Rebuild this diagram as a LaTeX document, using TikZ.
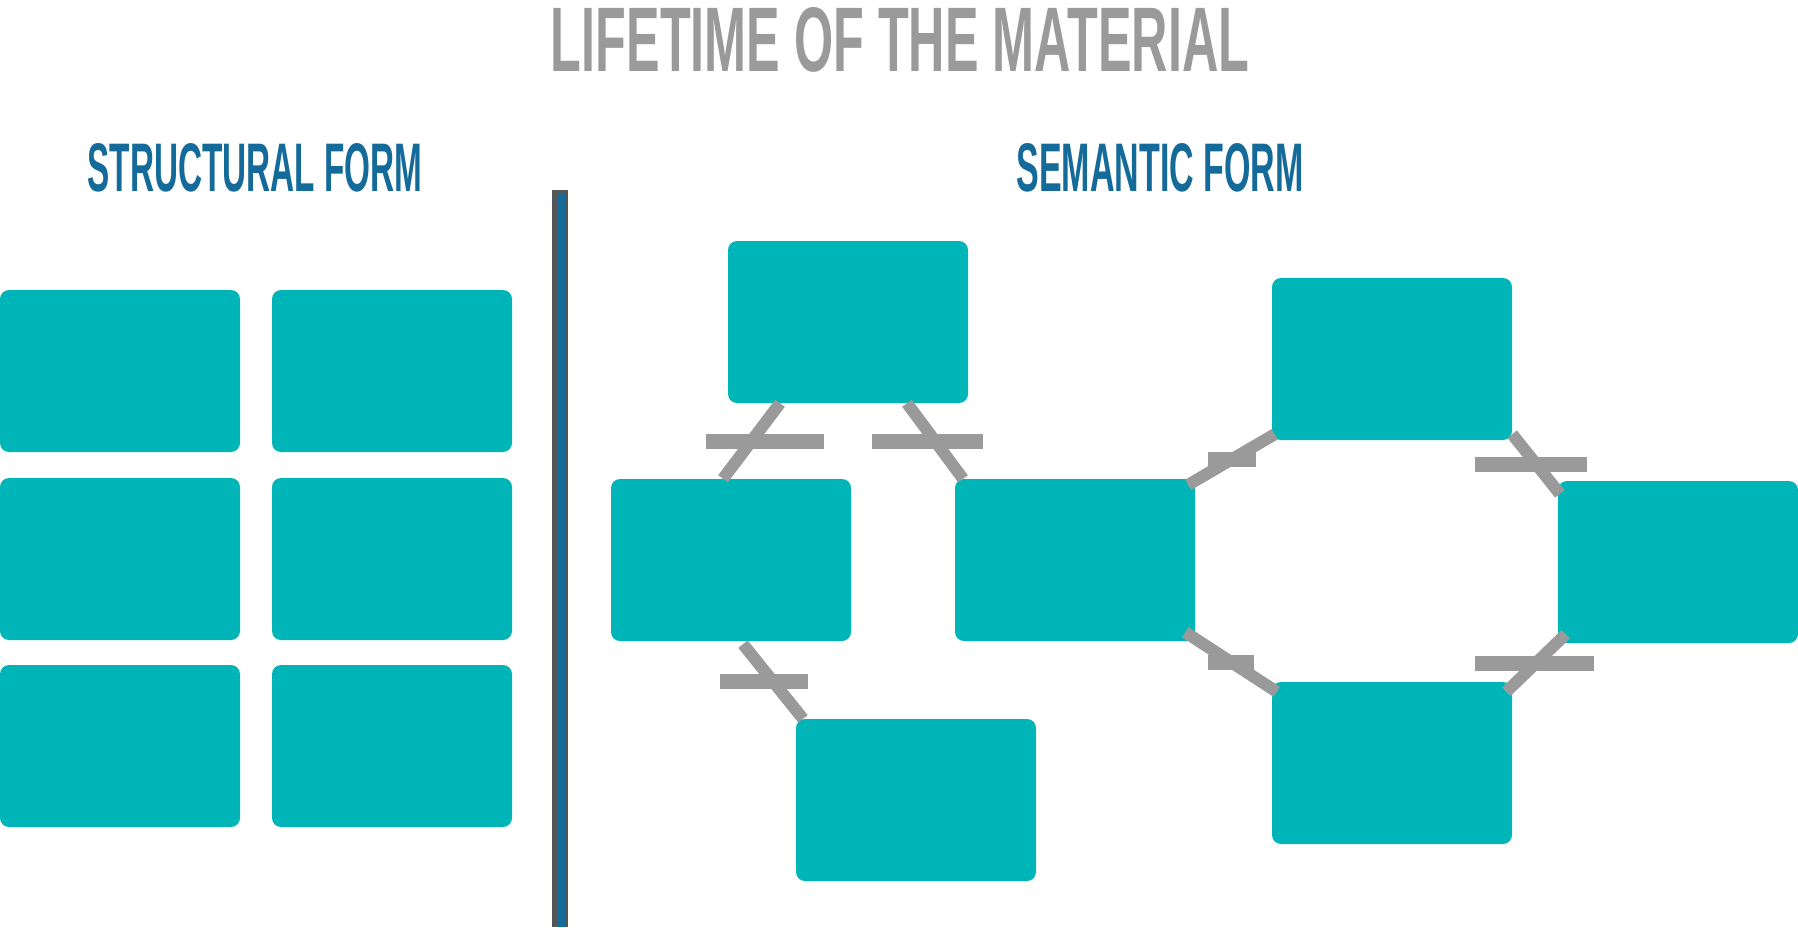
\documentclass[tikz,border=0pt]{standalone}
\usepackage{fontspec}
\setmainfont{Liberation Sans}
\usepackage{graphicx}
\definecolor{boxc}{HTML}{00B5B8}
\definecolor{shadc}{HTML}{808080}
\definecolor{linec}{HTML}{9A9A9A}
\definecolor{headc}{HTML}{146A99}
\definecolor{darkc}{HTML}{555555}
\pgfdeclarelayer{bg}
\pgfsetlayers{bg,main}
\tikzset{
  box/.style={fill=boxc, rounded corners=9pt, minimum width=240pt, minimum height=162pt, inner sep=0pt, draw=none},
  conn/.style={draw=linec, line width=12pt},
  barnode/.style={fill=linec, inner sep=0pt, minimum height=15pt},
  heading/.style={inner sep=0pt, text=headc},
}
\begin{document}
\begin{tikzpicture}[x=1pt, y=-1pt]
\useasboundingbox (0,0) rectangle (1798,927);
\fill[white] (0,0) rectangle (1798,927);
% title
\node[inner sep=0pt, text=linec] (title) at (900,40) {\resizebox{698pt}{64pt}{\bfseries LIFETIME OF THE MATERIAL}};
% headings
\node[heading] (h1) at (255,168) {\resizebox{335pt}{48pt}{\bfseries STRUCTURAL FORM}};
\node[heading] (h2) at (1160,168) {\resizebox{287pt}{48pt}{\bfseries SEMANTIC FORM}};
% divider
\fill[darkc] (552,190) rectangle (568,927);
\fill[headc] (557,194) rectangle (565,927);
% structural grid
\node[box] (s1) at (120,371) {};
\node[box] (s2) at (392,371) {};
\node[box] (s3) at (120,559) {};
\node[box] (s4) at (392,559) {};
\node[box] (s5) at (120,746) {};
\node[box] (s6) at (392,746) {};
% semantic boxes
\node[box] (A) at (848,322) {};
\node[box] (B) at (731,560) {};
\node[box] (C) at (916,800) {};
\node[box] (D) at (1075,560) {};
\node[box] (E) at (1392,359) {};
\node[box] (F) at (1678,562) {};
\node[box] (G) at (1392,763) {};
\begin{pgfonlayer}{bg}
\foreach \n in {s1,s2,s3,s4,s5,s6,A,B,C,D,E,F,G}
  \fill[shadc] ([yshift=4pt]\n.north west) rectangle ([xshift=2pt,yshift=-5pt]\n.south east);
\end{pgfonlayer}
% connectors
\draw[conn] ([xshift=-68pt]A.south) -- ([xshift=-8pt]B.north)
  node[midway, barnode, minimum width=118pt, xshift=13pt] (b1) {};
\draw[conn] ([xshift=59pt]A.south) -- ([xshift=-112pt]D.north)
  node[midway, barnode, minimum width=111pt, xshift=-8pt] (b2) {};
\draw[conn] ([xshift=12pt,yshift=-3pt]B.south) -- ([xshift=-113pt]C.north)
  node[midway, barnode, minimum width=88pt, xshift=-9pt] (b3) {};
\draw[conn] ([xshift=-7pt,yshift=-6pt]D.north east) -- ([xshift=3pt,yshift=6pt]E.south west)
  node[midway, barnode, minimum width=48pt] (b4) {};
\draw[conn] ([yshift=6pt]E.south east) -- ([xshift=2pt,yshift=-13pt]F.north west)
  node[midway, barnode, minimum width=112pt, xshift=-5pt] (b5) {};
\draw[conn] ([xshift=-10pt,yshift=9pt]D.south east) -- ([xshift=5pt,yshift=-10pt]G.north west)
  node[midway, barnode, minimum width=46pt] (b6) {};
\draw[conn] ([xshift=-6pt,yshift=-10pt]G.north east) -- ([xshift=8pt,yshift=9pt]F.south west)
  node[midway, barnode, minimum width=119pt, xshift=-2pt] (b7) {};
\end{tikzpicture}
\end{document}
